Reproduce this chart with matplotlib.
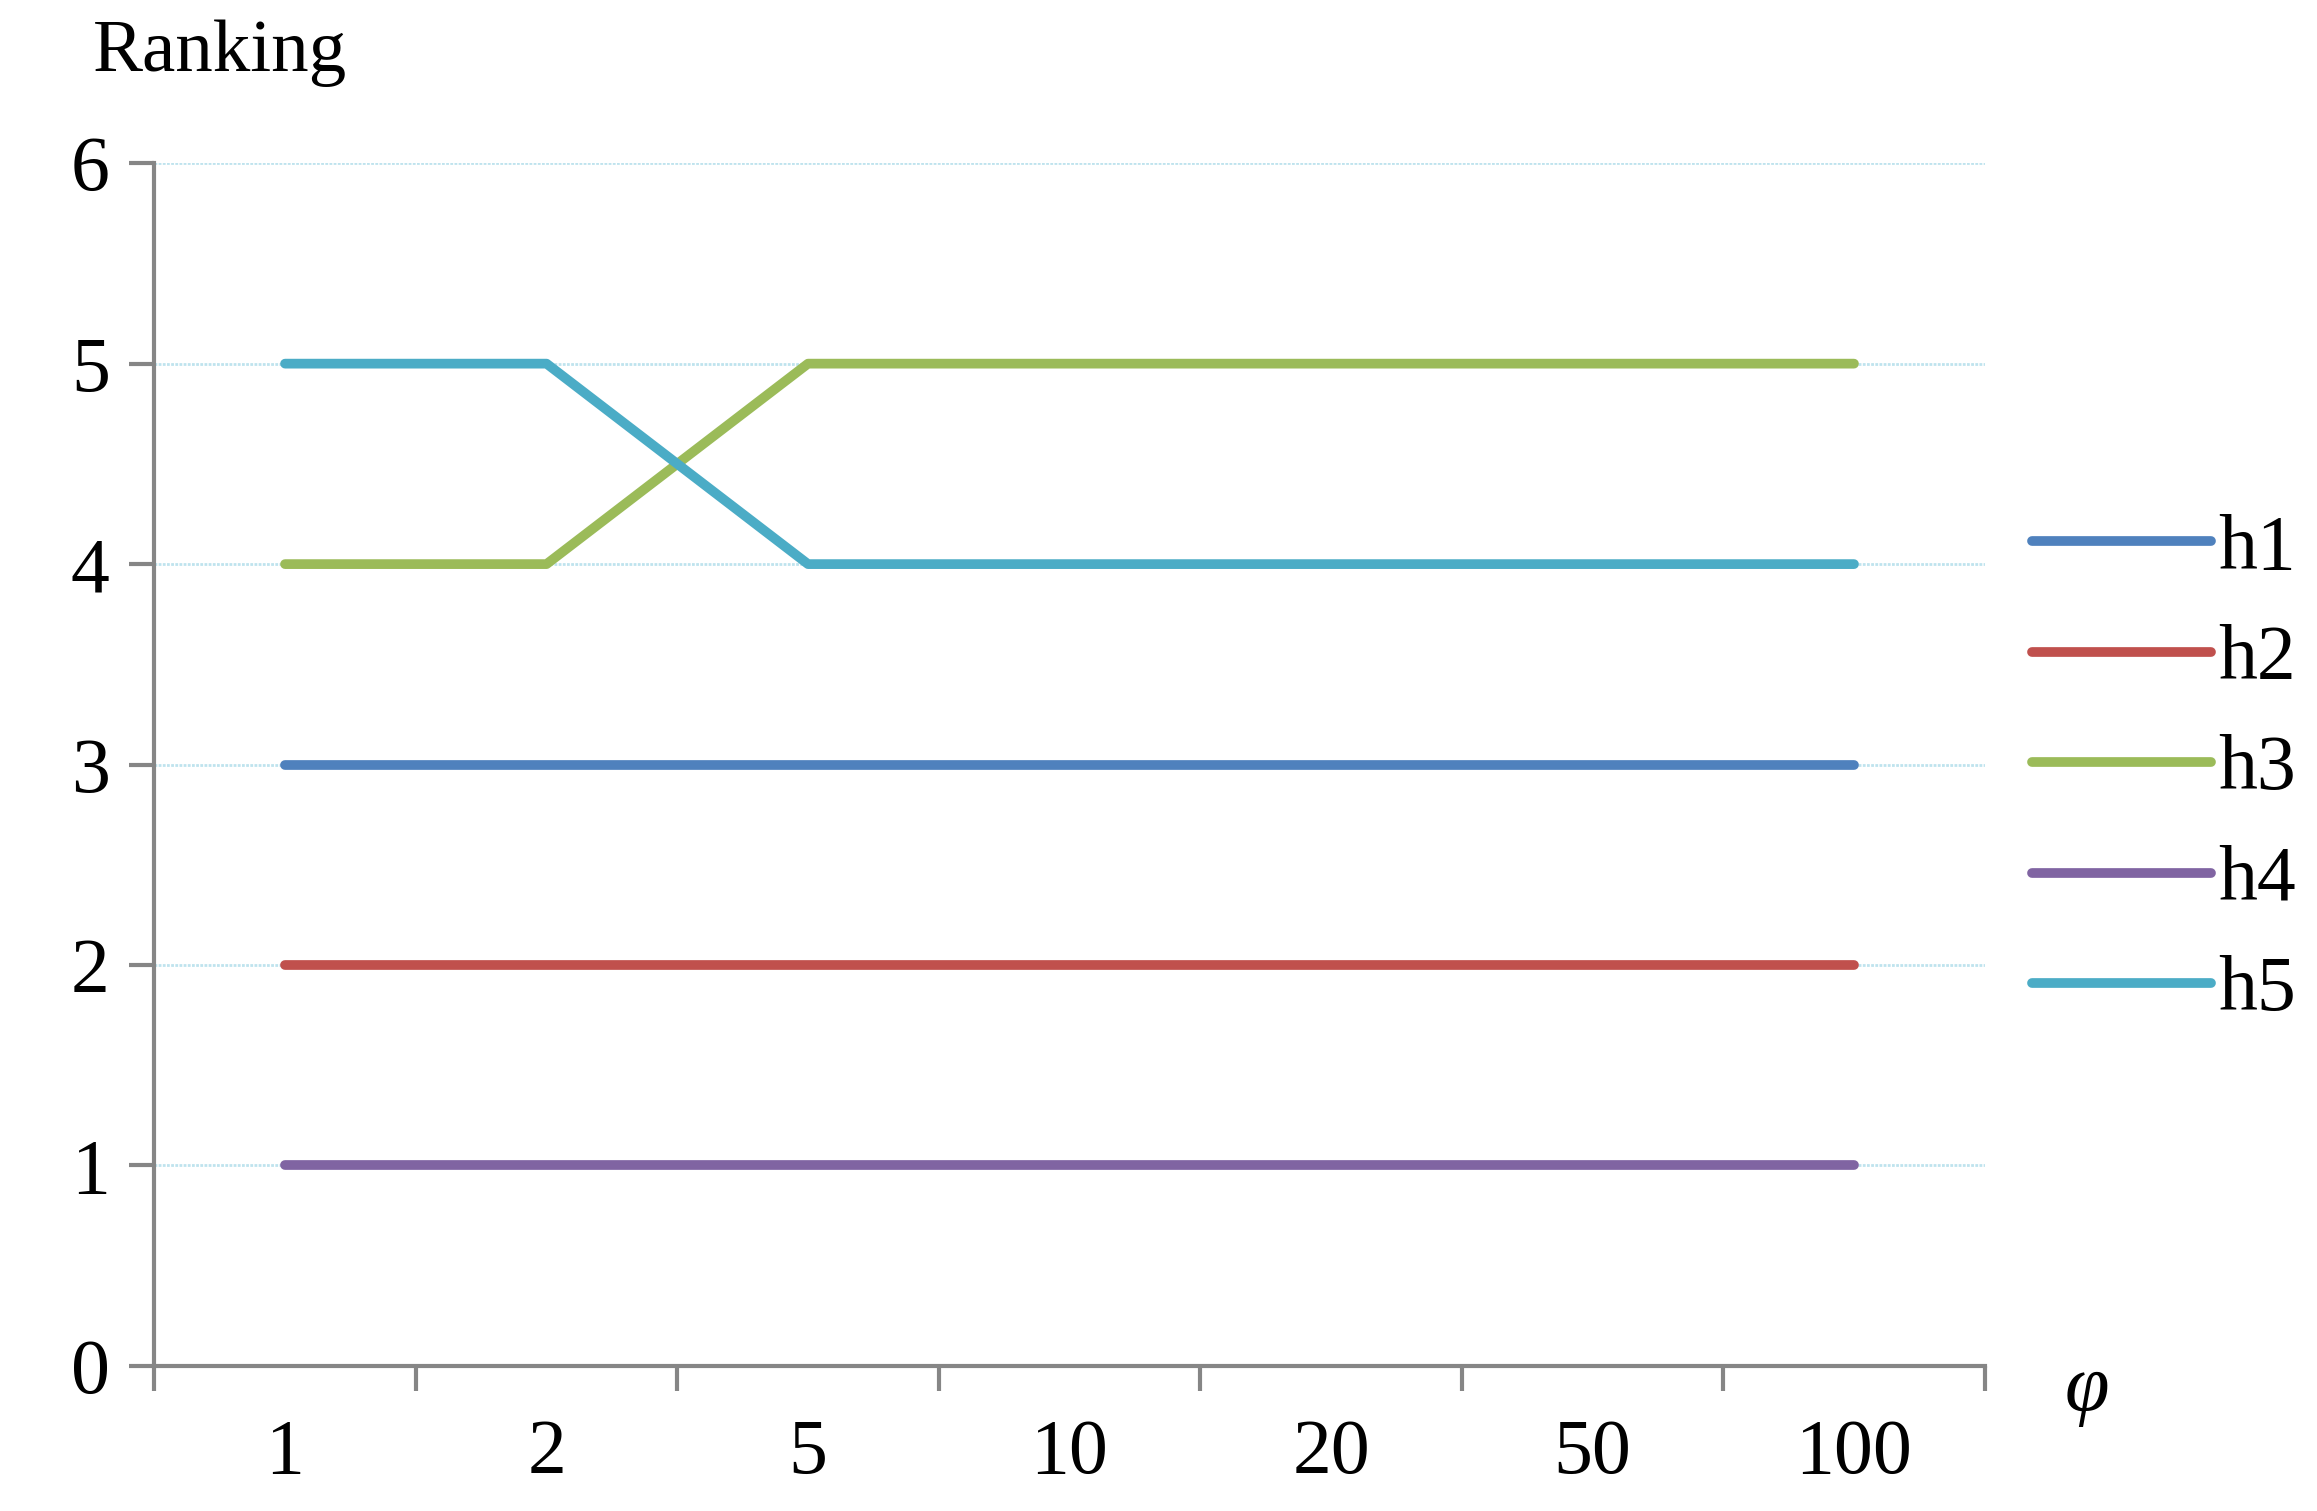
import matplotlib.pyplot as plt
import numpy as np

categories = ['1', '2', '5', '10', '20', '50', '100']
series = {
    'h1': [3, 3, 3, 3, 3, 3, 3],
    'h2': [2, 2, 2, 2, 2, 2, 2],
    'h3': [4, 4, 5, 5, 5, 5, 5],
    'h4': [1, 1, 1, 1, 1, 1, 1],
    'h5': [5, 5, 4, 4, 4, 4, 4],
}
colors = ['#4F81BD', '#C0504D', '#9BBB59', '#8064A2', '#4BACC6']

plt.rcParams['font.family'] = ['Liberation Serif', 'DejaVu Serif']

fig = plt.figure(figsize=(23.17, 15.11), dpi=100)
ax = fig.add_axes([0.0666, 0.096, 0.79, 0.796])

x = np.arange(len(categories))
for (name, vals), c in zip(series.items(), colors):
    ax.plot(x, vals, color=c, lw=7, label=name, solid_capstyle='round')

ax.set_xlim(-0.5, len(categories) - 0.5)
ax.set_ylim(0, 6)
ax.set_yticks(range(7))
ax.yaxis.grid(True, color='#BFE3EE', lw=2, ls=(0, (1, 0.5)))
ax.set_axisbelow(True)
ax.set_xticks(x)
ax.set_xticklabels(categories)
ax.set_xticks(np.arange(-0.5, len(categories)), minor=True)
ax.tick_params(axis='x', which='major', length=0, pad=38, labelsize=56)
ax.tick_params(axis='x', which='minor', length=18, width=3, color='#868686', direction='out')
ax.tick_params(axis='y', length=18, width=3, color='#868686', labelsize=56, pad=14)
for s in ['top', 'right']:
    ax.spines[s].set_visible(False)
for s in ['left', 'bottom']:
    ax.spines[s].set_color('#868686')
    ax.spines[s].set_linewidth(3)

fig.text(0.040, 0.965, 'Ranking', fontsize=54, va='center')
fig.text(0.891, 0.08, 'φ', fontsize=58, style='italic', va='center')

ax.legend(loc='center left', bbox_to_anchor=(0.877, 0.49), bbox_transform=fig.transFigure,
          frameon=False, fontsize=56, handlelength=2.3, handletextpad=0.1,
          labelspacing=0.5, borderpad=0, borderaxespad=0)

fig.savefig('out.png')
